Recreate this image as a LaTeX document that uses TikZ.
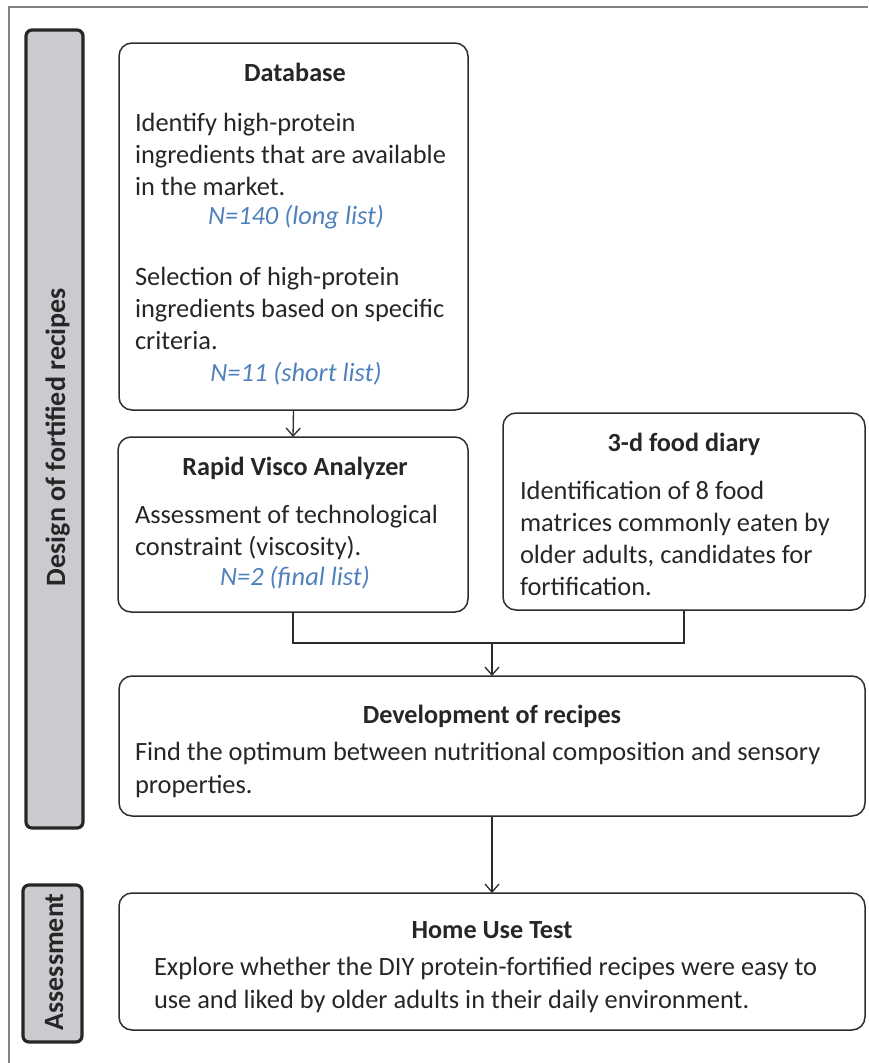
\documentclass[tikz,border=0pt]{standalone}
\usepackage{fontspec}
\setmainfont{Carlito}
\usetikzlibrary{arrows.meta}
\definecolor{txt}{RGB}{38,38,38}
\definecolor{nblue}{RGB}{79,129,189}
\definecolor{barfill}{RGB}{205,202,207}
\definecolor{frame}{RGB}{130,130,130}
\definecolor{edge}{RGB}{45,45,45}
\tikzset{
  every node/.style={inner sep=0pt, outer sep=0pt, text=txt, font=\fontsize{26.4}{32}\selectfont},
  box/.style={draw=edge, line width=1.5pt, rounded corners=13pt, anchor=north west},
  sidebar/.style={draw=black!85, fill=barfill, line width=3.2pt, rounded corners=6pt, anchor=north west},
  ttl/.style={anchor=base, font=\fontsize{26.2}{32}\selectfont\bfseries},
  bodyline/.style={anchor=base west},
  ncount/.style={anchor=base, text=nblue, font=\fontsize{26.4}{32}\selectfont\itshape},
  sidetext/.style={rotate=90, anchor=base, font=\fontsize{28}{32}\selectfont\bfseries},
  conn/.style={draw=edge, line width=1.3pt},
  arr/.style={conn, -{Straight Barb[length=8pt,width=14pt,line width=1.3pt]}}
}
\begin{document}
\begin{tikzpicture}[x=1pt,y=-1pt]
\useasboundingbox (0,0) rectangle (868,1063);
% outer frame (top and left only)
\coordinate (frTL) at (9,7);
\coordinate (frTR) at (868,7);
\coordinate (frBL) at (9,1063);
\draw[frame, line width=1.5pt] (frTR) -- (frTL) -- (frBL);

% side bars
\node (barD) [sidebar, minimum width=57pt, minimum height=798pt] at (26,30) {};
\node (barDt) [sidetext] at (65,437) {Design of fortified recipes};
\node (barA) [sidebar, minimum width=59pt, minimum height=157pt] at (23,885) {};
\node (barAt) [sidetext] at (63,962) {Assessment};

% Database box
\node (db) [box, minimum width=349pt, minimum height=367pt] at (119,43) {};
\node (dbT) [ttl] at (295,81) {Database};
\node (db1) [bodyline] at (135,131) {Identify high-protein};
\node (db2) [bodyline] at (135,163) {ingredients that are available};
\node (db3) [bodyline] at (135,195) {in the market.};
\node (db4) [ncount] at (296,224) {N=140 (long list)};
\node (db5) [bodyline] at (135,285) {Selection of high-protein};
\node (db6) [bodyline] at (135,317) {ingredients based on specific};
\node (db7) [bodyline] at (135,349) {criteria.};
\node (db8) [ncount] at (296,381) {N=11 (short list)};

% RVA box
\node (rva) [box, minimum width=350pt, minimum height=175pt] at (118,437) {};
\node (rvaT) [ttl] at (295,475) {Rapid Visco Analyzer};
\node (rva1) [bodyline] at (135,523) {Assessment of technological};
\node (rva2) [bodyline] at (135,555) {constraint (viscosity).};
\node (rva3) [ncount] at (295,585) {N=2 (final list)};

% Food diary box
\node (fd) [box, minimum width=362pt, minimum height=197pt] at (503,413) {};
\node (fdT) [ttl] at (684,451) {3-d food diary};
\node (fd1) [bodyline] at (520,499) {Identification of 8 food};
\node (fd2) [bodyline] at (520,531) {matrices commonly eaten by};
\node (fd3) [bodyline] at (520,563) {older adults, candidates for};
\node (fd4) [bodyline] at (520,595) {fortification.};

% Development box
\node (dev) [box, minimum width=746pt, minimum height=140pt] at (119,676) {};
\node (devT) [ttl] at (492,723) {Development of recipes};
\node (dev1) [bodyline] at (135,760) {Find the optimum between nutritional composition and sensory};
\node (dev2) [bodyline] at (135,793) {properties.};

% Home use test box
\node (hut) [box, minimum width=746pt, minimum height=137pt] at (119,893) {};
\node (hutT) [ttl] at (492,938) {Home Use Test};
\node (hut1) [bodyline] at (154,975) {Explore whether the DIY protein-fortified recipes were easy to};
\node (hut2) [bodyline] at (154,1008) {use and liked by older adults in their daily environment.};

% connectors
\coordinate (mergeL) at (rva.south |- 0,643);
\coordinate (mergeR) at (fd.south |- 0,643);
\coordinate (mergeM) at (dev.north |- 0,643);
\draw[arr] (db.south) -- (rva.north);
\draw[conn] (rva.south) -- (mergeL) -- (mergeR) -- (fd.south);
\draw[arr] (mergeM) -- (dev.north);
\draw[arr] (dev.south) -- (hut.north);
\end{tikzpicture}
\end{document}
